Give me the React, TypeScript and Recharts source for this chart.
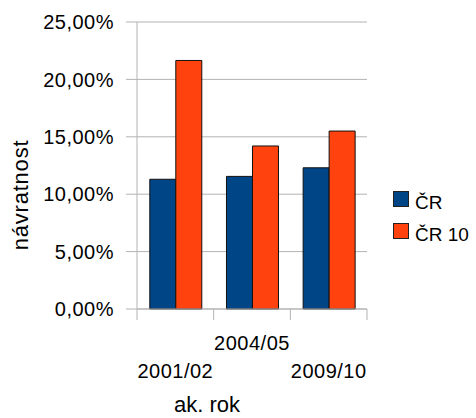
import React from 'react';
import { BarChart, Bar, XAxis, YAxis, CartesianGrid, Legend } from 'recharts';

const categories = ['2001/02', '2004/05', '2009/10'];
const seriesCR = [11.3, 11.55, 12.3];
const seriesCR10 = [21.65, 14.2, 15.5];
const yTicks = [0, 5, 10, 15, 20, 25];
const seriesNames = ['ČR', 'ČR 10'];

const data = categories.map((c, i) => ({ rok: c, cr: seriesCR[i], cr10: seriesCR10[i] }));

const FONT = '"Liberation Sans", Arial, sans-serif';
const GRID = '#b3b3b3';
const BAND = 230 / 3;

const XTick = (props: any) => {
  const { x, y, payload, index } = props;
  const low = index % 2 === 1;
  return (
    <g>
      <line x1={x - BAND / 2} x2={x - BAND / 2} y1={y} y2={y + 11} stroke={GRID} />
      {index === categories.length - 1 && (
        <line x1={x + BAND / 2} x2={x + BAND / 2} y1={y} y2={y + 11} stroke={GRID} />
      )}
      <text x={x} y={y + (low ? 41 : 69)} textAnchor="middle" fontSize={20} fill="#000" fontFamily={FONT} letterSpacing={0.5}>
        {payload.value}
      </text>
    </g>
  );
};

const renderLegend = (props: any) => {
  const { payload } = props;
  return (
    <svg width={86} height={70} style={{ display: 'block' }}>
      {(payload || []).map((p: any, i: number) => (
        <g key={i}>
          <rect x={3.5} y={3.5 + i * 32} width={15} height={15} fill={p.color} stroke="#222" />
          <text x={25} y={21 + i * 32} fontSize={19} fill="#000" fontFamily={FONT}>
            {p.value}
          </text>
        </g>
      ))}
    </svg>
  );
};

export default function App() {
  return (
    <div style={{ position: 'absolute', left: 0, top: 0, width: 476, height: 418, background: '#fff', fontFamily: FONT }}>
      <BarChart
        width={476}
        height={418}
        data={data}
        margin={{ top: 22, right: 109, bottom: 49, left: 0 }}
        barCategoryGap="16.7%"
        barGap={0}
      >
        <CartesianGrid vertical={false} stroke={GRID} />
        <XAxis
          dataKey="rok"
          interval={0}
          height={60}
          tickSize={0}
          tickMargin={0}
          tickLine={false}
          axisLine={{ stroke: GRID }}
          tick={<XTick />}
          label={{
            content: () => (
              <text x={207} y={412} textAnchor="middle" fontSize={22} fill="#000" fontFamily={FONT}>
                ak. rok
              </text>
            ),
          }}
        />
        <YAxis
          domain={[0, 25]}
          ticks={yTicks}
          width={137}
          tickSize={11}
          tickMargin={12}
          axisLine={{ stroke: GRID }}
          tickLine={{ stroke: GRID }}
          tick={{ fontSize: 20, fill: '#000', fontFamily: FONT, letterSpacing: 0.5 }}
          tickFormatter={(v: number) => v.toFixed(2).replace('.', ',') + '%'}
          label={{
            content: () => (
              <text
                x={28}
                y={195}
                transform="rotate(-90 28 195)"
                textAnchor="middle"
                fontSize={22}
                fill="#000"
                fontFamily={FONT}
                letterSpacing={0.8}
              >
                návratnost
              </text>
            ),
          }}
        />
        <YAxis yAxisId="right" orientation="right" width={0} tick={false} tickLine={false} axisLine={{ stroke: GRID }} />
        <Legend
          layout="horizontal"
          align="center"
          verticalAlign="middle"
          content={renderLegend}
          wrapperStyle={{ left: 390, top: 188, width: 86, height: 70 }}
        />
        <Bar dataKey="cr" name={seriesNames[0]} fill="#004586" stroke="#111" strokeWidth={1} isAnimationActive={false} />
        <Bar dataKey="cr10" name={seriesNames[1]} fill="#ff420e" stroke="#111" strokeWidth={1} isAnimationActive={false} />
      </BarChart>
    </div>
  );
}
